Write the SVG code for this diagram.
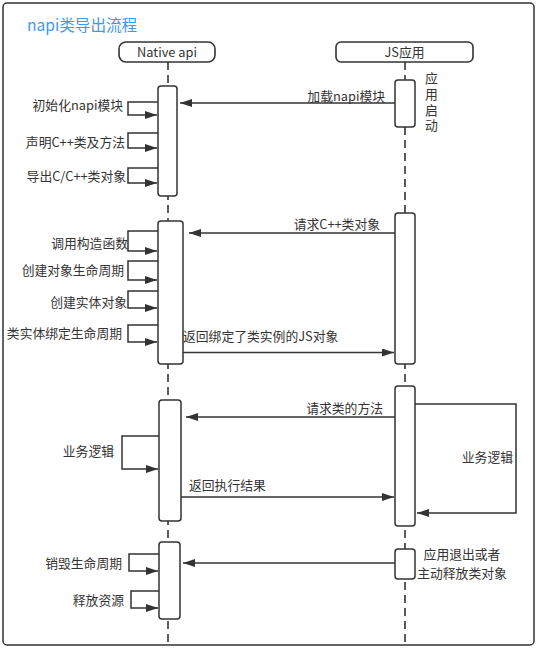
<svg xmlns="http://www.w3.org/2000/svg" width="537" height="648" viewBox="0 0 537 648">
<style>
text{font-family:"Noto Sans CJK SC","Noto Sans",sans-serif;font-size:12.8px;fill:#333}
.title{font-size:15.6px;fill:#3d9be6}
.head{fill:#fff;stroke:#333;stroke-width:1.6}
.life{stroke:#333;stroke-width:1.6;stroke-dasharray:8 5;fill:none}
.act{fill:#fff;stroke:#333;stroke-width:1.5}
.msg{stroke:#333;stroke-width:1.5;fill:none;marker-end:url(#arr)}
.e{text-anchor:end}
.m{text-anchor:middle}
.v{writing-mode:vertical-rl;letter-spacing:3.1px}
</style>
<defs>
<marker id="arr" markerUnits="userSpaceOnUse" markerWidth="13" markerHeight="9" refX="12" refY="4" orient="auto">
<path d="M0,0 L12,4 L0,8 z" fill="#333"/>
</marker>
</defs>
<rect x="3" y="3" width="531" height="642" rx="4" fill="#fff" stroke="#333" stroke-width="1.5"/>
<text class="title" x="27" y="31">napi类导出流程</text>

<g id="native">
<line class="life" x1="168" y1="62" x2="168" y2="645"/>
<rect class="head" x="119" y="42" width="96" height="20" rx="7"/>
<text class="m" x="167" y="56.5">Native api</text>
</g>
<g id="js">
<line class="life" x1="405" y1="62" x2="405" y2="645"/>
<rect class="head" x="336" y="42" width="137" height="20" rx="5"/>
<text class="m" x="404.5" y="56.5">JS应用</text>
</g>

<g id="activations">
<rect class="act" x="158" y="86" width="19" height="110" rx="3"/>
<rect class="act" x="158" y="221" width="25" height="143" rx="3"/>
<rect class="act" x="159" y="400" width="22" height="121" rx="3"/>
<rect class="act" x="159" y="542" width="21" height="77" rx="3"/>
<rect class="act" x="395" y="80" width="20" height="47" rx="3"/>
<rect class="act" x="395" y="213" width="20" height="151" rx="3"/>
<rect class="act" x="395" y="386" width="20" height="140" rx="3"/>
<rect class="act" x="395" y="549" width="20" height="30" rx="3"/>
</g>

<g id="connectors">
<line class="msg" x1="395" y1="103" x2="180" y2="103"/>
<line class="msg" x1="395" y1="233" x2="189" y2="233"/>
<line class="msg" x1="183" y1="352.5" x2="394" y2="352.5"/>
<line class="msg" x1="395" y1="417" x2="186" y2="417"/>
<line class="msg" x1="181" y1="497" x2="394" y2="497"/>
<line class="msg" x1="395" y1="563" x2="183" y2="563"/>
<path class="msg" d="M415,404 H516 V513 H417"/>
<path class="msg" d="M158,102 H128 V115 H157"/>
<path class="msg" d="M158,133 H128 V148 H157"/>
<path class="msg" d="M158,168 H128 V183 H157"/>
<path class="msg" d="M158,231 H128 V251 H157"/>
<path class="msg" d="M158,261 H128 V280 H157"/>
<path class="msg" d="M158,291 H128 V308 H157"/>
<path class="msg" d="M158,325 H128 V342 H157"/>
<path class="msg" d="M159,436 H122 V469 H158"/>
<path class="msg" d="M159,554 H129 V571 H158"/>
<path class="msg" d="M159,591 H131 V608 H158"/>
</g>

<g id="labels">
<text class="e" x="385" y="101">加载napi模块</text>
<text class="v" x="431.5" y="71.5">应用启动</text>
<text class="e" x="380" y="229">请求C++类对象</text>
<text x="183" y="341">返回绑定了类实例的JS对象</text>
<text class="e" x="383" y="413">请求类的方法</text>
<text x="189" y="490">返回执行结果</text>
<text class="e" x="513" y="462">业务逻辑</text>
<text class="m" x="462" y="558.5">应用退出或者</text>
<text class="m" x="462" y="577.5">主动释放类对象</text>
<text class="e" x="123" y="110">初始化napi模块</text>
<text class="e" x="125" y="147">声明C++类及方法</text>
<text class="e" x="126" y="181">导出C/C++类对象</text>
<text class="e" x="128" y="248">调用构造函数</text>
<text class="e" x="124" y="275">创建对象生命周期</text>
<text class="e" x="127" y="307">创建实体对象</text>
<text class="e" x="122" y="338">类实体绑定生命周期</text>
<text class="e" x="114" y="456">业务逻辑</text>
<text class="e" x="122" y="568">销毁生命周期</text>
<text class="e" x="124" y="605">释放资源</text>
</g>
</svg>
